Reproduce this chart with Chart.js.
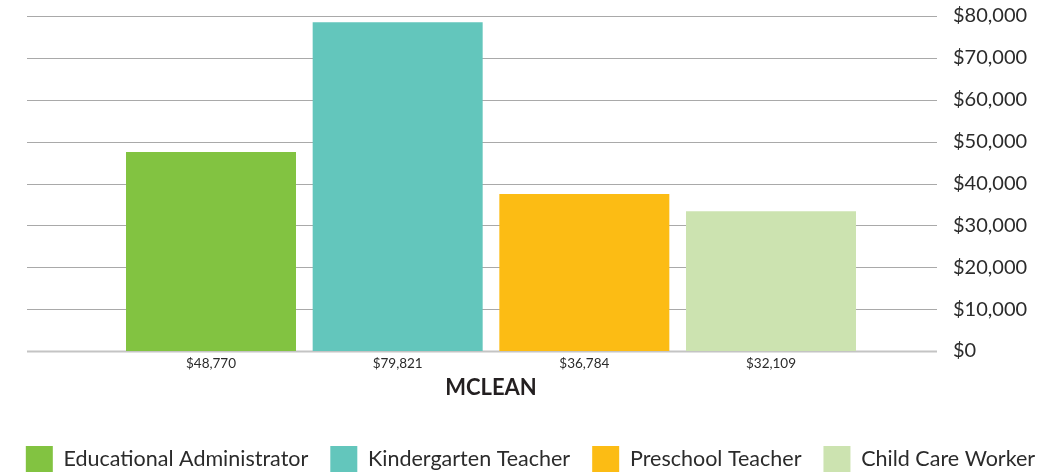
<!DOCTYPE html>
<html>
<head>
<meta charset="utf-8">
<script src="https://cdn.jsdelivr.net/npm/chart.js@4.4.1/dist/chart.umd.min.js"></script>
<style>
  html, body { margin: 0; padding: 0; background: #ffffff; }
  #wrap { width: 1049px; height: 472px; position: relative; }
</style>
</head>
<body>
<div id="wrap"><canvas id="c" width="1049" height="472"></canvas></div>
<script>
// ---- data ----
const categories = ["MCLEAN"];
const seriesNames = ["Educational Administrator", "Kindergarten Teacher", "Preschool Teacher", "Child Care Worker"];
const barHeights = [47500, 78500, 37500, 33400];          // bar heights as drawn
const valueLabels = ["$48,770", "$79,821", "$36,784", "$32,109"]; // printed labels
const seriesColors = ["#82c341", "#63c6bc", "#fcbc14", "#cce3b0"];
const yTicks = [0, 10000, 20000, 30000, 40000, 50000, 60000, 70000, 80000];

const FONT = "Lato, 'Open Sans', sans-serif";
const TEXT = "#2b2b2b";

const datasets = seriesNames.map((name, i) => ({
  label: name,
  data: [barHeights[i]],
  backgroundColor: seriesColors[i],
  borderWidth: 0,
  categoryPercentage: 0.8205,
  barPercentage: 0.9107
}));

// gridlines drawn from the y scale's own ticks, shifted slightly left like the original
const gridPlugin = {
  id: 'gridShift',
  beforeDatasetsDraw(chart) {
    const { ctx, chartArea, scales } = chart;
    const y = scales.y;
    ctx.save();
    y.ticks.forEach(t => {
      const py = Math.round(y.getPixelForValue(t.value));
      if (t.value === 0) {
        ctx.strokeStyle = "#c4c4c4";
        ctx.lineWidth = 2;
      } else {
        ctx.strokeStyle = "#a9a9a9";
        ctx.lineWidth = 1.2;
      }
      ctx.beginPath();
      ctx.moveTo(chartArea.left - 9, py + 0.5);
      ctx.lineTo(chartArea.right - 9, py + 0.5);
      ctx.stroke();
    });
    ctx.restore();
  }
};

// value labels under each bar, positioned from the bar elements
const valueLabelPlugin = {
  id: 'valueLabels',
  afterDatasetsDraw(chart) {
    const { ctx, chartArea } = chart;
    ctx.save();
    ctx.font = "13.5px " + FONT;
    ctx.fillStyle = TEXT;
    ctx.textAlign = "center";
    ctx.textBaseline = "middle";
    chart.data.datasets.forEach((ds, i) => {
      const meta = chart.getDatasetMeta(i);
      meta.data.forEach(bar => {
        ctx.fillText(valueLabels[i], bar.x, chartArea.bottom + 13);
      });
    });
    ctx.restore();
  }
};

new Chart(document.getElementById('c'), {
  type: 'bar',
  data: { labels: categories, datasets },
  plugins: [gridPlugin, valueLabelPlugin],
  options: {
    responsive: false,
    animation: false,
    devicePixelRatio: 1,
    layout: { padding: { top: 16, left: 0, right: -12, bottom: -11 } },
    plugins: {
      tooltip: { enabled: false },
      legend: {
        position: 'bottom',
        labels: {
          boxWidth: 27,
          boxHeight: 27,
          padding: 22,
          color: TEXT,
          font: { family: FONT, size: 21.5 }
        }
      }
    },
    scales: {
      x: {
        offset: true,
        grid: { display: false, drawTicks: false },
        border: { display: false },
        ticks: {
          padding: 24,
          color: "#231f20",
          font: { family: FONT, size: 22, weight: 'bold' }
        },
        afterFit(scale) { scale.height = 73; }
      },
      yLeft: {
        position: 'left',
        display: true,
        grid: { display: false, drawTicks: false },
        border: { display: false },
        ticks: { display: false },
        afterFit(scale) { scale.width = 36; }
      },
      y: {
        position: 'right',
        min: 0,
        max: 80000,
        afterBuildTicks(scale) { scale.ticks = yTicks.map(v => ({ value: v })); },
        grid: {
          display: true,
          drawOnChartArea: false,
          drawTicks: true,
          tickLength: 3,
          color: 'rgba(0,0,0,0)'
        },
        border: { display: false },
        ticks: {
          padding: 4,
          color: TEXT,
          font: { family: FONT, size: 20 },
          callback: v => "$" + Number(v).toLocaleString("en-US")
        },
        afterFit(scale) { scale.width = 115; }
      }
    }
  }
});
</script>
</body>
</html>
